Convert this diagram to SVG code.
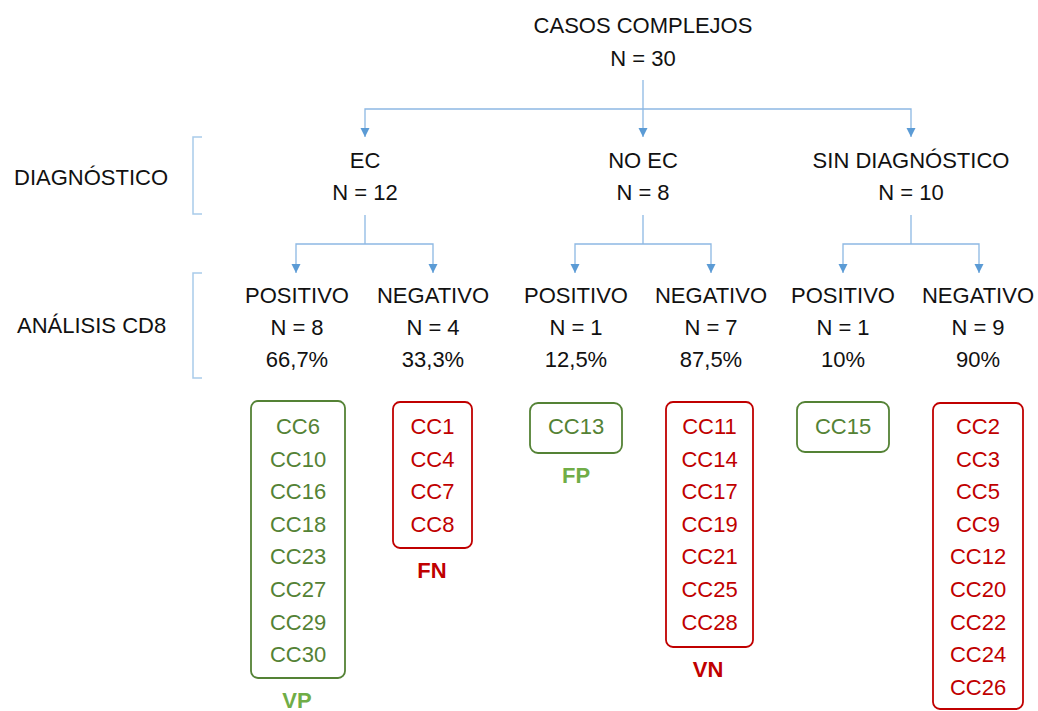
<svg xmlns="http://www.w3.org/2000/svg" width="1038" height="711" viewBox="0 0 1038 711">
<defs>
<marker id="arr" viewBox="0 0 10 10" refX="10" refY="5" markerWidth="9" markerHeight="10" markerUnits="userSpaceOnUse" orient="auto">
<path d="M0,0 L10,5 L0,10 z" fill="#5B9BD5"/>
</marker>
</defs>
<style>
text{font-family:"Liberation Sans",Arial,sans-serif;font-size:22px;fill:#111;text-anchor:middle}
.lbl{text-anchor:start}
.g{fill:#548235}
.r{fill:#C00000}
.gb{fill:#70AD47;font-weight:bold}
.rb{fill:#C00000;font-weight:bold}
.bg{fill:none;stroke:#548235;stroke-width:1.8}
.br{fill:none;stroke:#C00000;stroke-width:1.8}
.c{fill:none;stroke:#8DB8E3;stroke-width:1.3}
.a{marker-end:url(#arr)}
.brk{fill:none;stroke:#A9CBEA;stroke-width:1.5}
</style>
<rect width="1038" height="711" fill="#fff"/>
<g id="connectors">
<polyline class="c" points="643,80 643,109"/>
<polyline class="c a" points="643,109 365,109 365,137"/>
<polyline class="c a" points="643,109 643,137"/>
<polyline class="c a" points="643,109 911,109 911,137"/>
<polyline class="c" points="365,215 365,244"/>
<polyline class="c a" points="365,244 296,244 296,273"/>
<polyline class="c a" points="365,244 433,244 433,273"/>
<polyline class="c" points="643,215 643,244"/>
<polyline class="c a" points="643,244 575,244 575,273"/>
<polyline class="c a" points="643,244 711,244 711,273"/>
<polyline class="c" points="911,215 911,244"/>
<polyline class="c a" points="911,244 843,244 843,273"/>
<polyline class="c a" points="911,244 979,244 979,273"/>
</g>
<g id="label-diagnostico">
<polyline class="brk" points="202,137 193,137 193,214 202,214"/>
<text class="lbl" x="14" y="185">DIAGNÓSTICO</text>
</g>
<g id="label-analisis">
<polyline class="brk" points="202,273 193,273 193,378 202,378"/>
<text class="lbl" x="17" y="333">ANÁLISIS CD8</text>
</g>
<g id="root">
<text x="643" y="33">CASOS COMPLEJOS</text>
<text x="643" y="66">N = 30</text>
</g>
<g id="ec">
<text x="365" y="168">EC</text>
<text x="365" y="200">N = 12</text>
</g>
<g id="noec">
<text x="643" y="168">NO EC</text>
<text x="643" y="200">N = 8</text>
</g>
<g id="sindx">
<text x="911" y="168">SIN DIAGNÓSTICO</text>
<text x="911" y="200">N = 10</text>
</g>
<g id="ec-pos">
<text x="297" y="303">POSITIVO</text>
<text x="297" y="335">N = 8</text>
<text x="297" y="367">66,7%</text>
</g>
<g id="ec-neg">
<text x="433" y="303">NEGATIVO</text>
<text x="433" y="335">N = 4</text>
<text x="433" y="367">33,3%</text>
</g>
<g id="noec-pos">
<text x="576" y="303">POSITIVO</text>
<text x="576" y="335">N = 1</text>
<text x="576" y="367">12,5%</text>
</g>
<g id="noec-neg">
<text x="711" y="303">NEGATIVO</text>
<text x="711" y="335">N = 7</text>
<text x="711" y="367">87,5%</text>
</g>
<g id="sin-pos">
<text x="843" y="303">POSITIVO</text>
<text x="843" y="335">N = 1</text>
<text x="843" y="367">10%</text>
</g>
<g id="sin-neg">
<text x="978" y="303">NEGATIVO</text>
<text x="978" y="335">N = 9</text>
<text x="978" y="367">90%</text>
</g>
<g id="vp">
<rect class="bg" x="251" y="401" width="94" height="277" rx="7"/>
<text class="g" x="298" y="434">CC6</text>
<text class="g" x="298" y="466.6">CC10</text>
<text class="g" x="298" y="499.2">CC16</text>
<text class="g" x="298" y="531.8">CC18</text>
<text class="g" x="298" y="564.4">CC23</text>
<text class="g" x="298" y="597">CC27</text>
<text class="g" x="298" y="629.6">CC29</text>
<text class="g" x="298" y="662.2">CC30</text>
<text class="gb" x="297" y="708">VP</text>
</g>
<g id="fn">
<rect class="br" x="393" y="402" width="79" height="146" rx="7"/>
<text class="r" x="432.5" y="434">CC1</text>
<text class="r" x="432.5" y="466.6">CC4</text>
<text class="r" x="432.5" y="499.2">CC7</text>
<text class="r" x="432.5" y="531.8">CC8</text>
<text class="rb" x="432" y="578">FN</text>
</g>
<g id="fp">
<rect class="bg" x="530" y="403" width="92" height="50" rx="8"/>
<text class="g" x="576" y="434">CC13</text>
<text class="gb" x="576" y="483">FP</text>
</g>
<g id="vn">
<rect class="br" x="666" y="402" width="87" height="245" rx="7"/>
<text class="r" x="709.5" y="434">CC11</text>
<text class="r" x="709.5" y="466.6">CC14</text>
<text class="r" x="709.5" y="499.2">CC17</text>
<text class="r" x="709.5" y="531.8">CC19</text>
<text class="r" x="709.5" y="564.4">CC21</text>
<text class="r" x="709.5" y="597">CC25</text>
<text class="r" x="709.5" y="629.6">CC28</text>
<text class="rb" x="708" y="677">VN</text>
</g>
<g id="sp15">
<rect class="bg" x="797" y="402" width="92" height="50" rx="8"/>
<text class="g" x="843" y="434">CC15</text>
</g>
<g id="sn">
<rect class="br" x="933" y="403" width="90" height="306" rx="7"/>
<text class="r" x="978" y="434">CC2</text>
<text class="r" x="978" y="466.6">CC3</text>
<text class="r" x="978" y="499.2">CC5</text>
<text class="r" x="978" y="531.8">CC9</text>
<text class="r" x="978" y="564.4">CC12</text>
<text class="r" x="978" y="597">CC20</text>
<text class="r" x="978" y="629.6">CC22</text>
<text class="r" x="978" y="662.2">CC24</text>
<text class="r" x="978" y="694.8">CC26</text>
</g>
</svg>
